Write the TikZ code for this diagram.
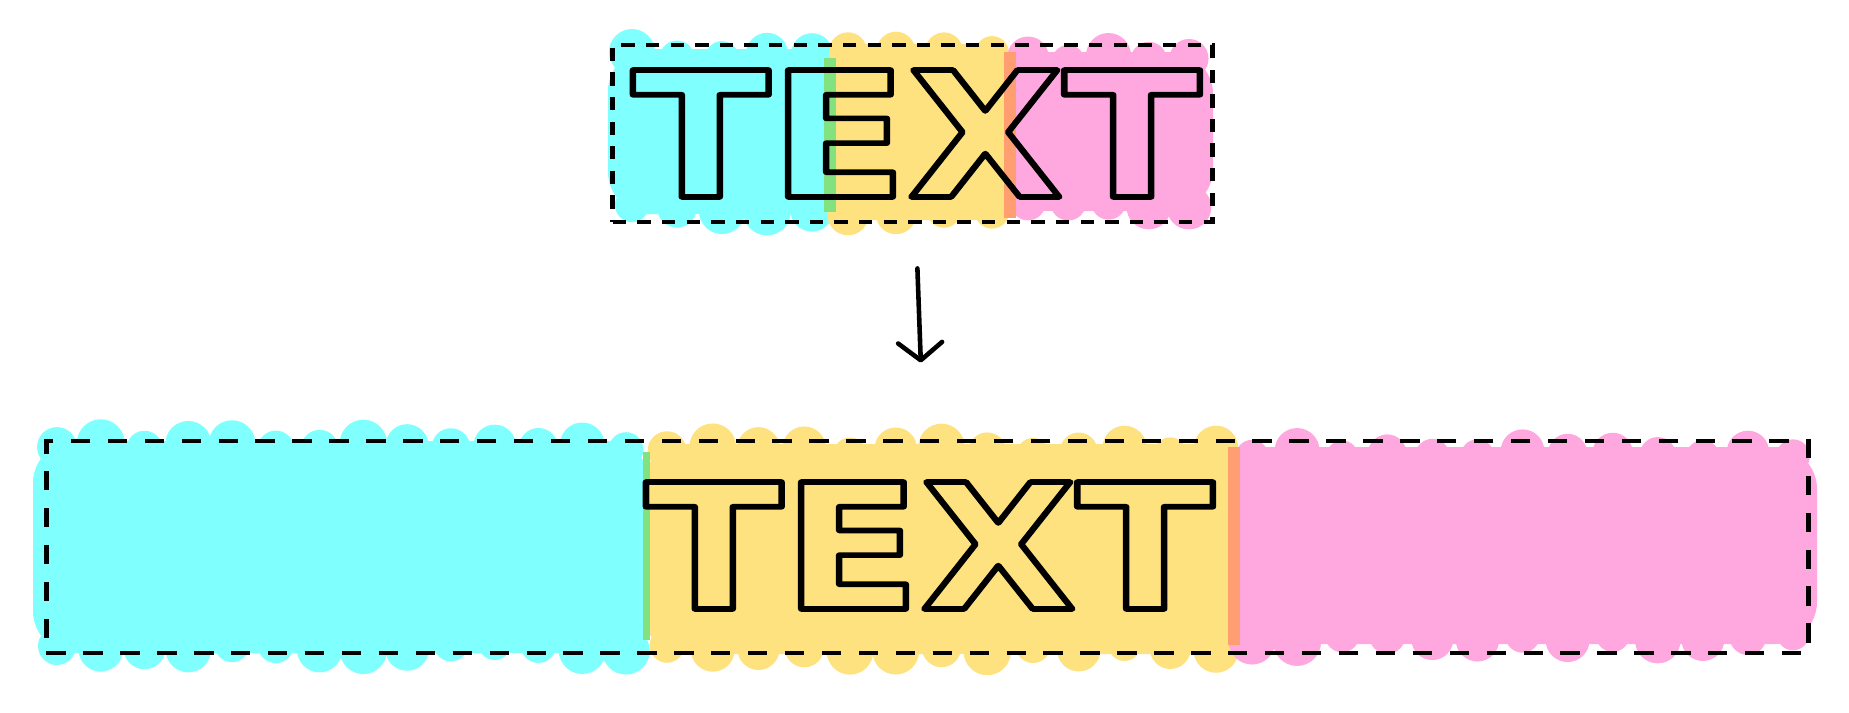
\documentclass[tikz,border=0pt]{standalone}
\usepackage{fontspec}
\usetikzlibrary{arrows.meta,positioning}
\newfontfamily\letterfont{DejaVu Sans Bold}
\definecolor{hlcyan}{RGB}{128,255,255}
\definecolor{hlyellow}{RGB}{255,226,128}
\definecolor{hlpink}{RGB}{255,168,224}
\definecolor{hlgreen}{RGB}{130,226,128}
\definecolor{hlorange}{RGB}{255,158,112}
% outlined letters: stroke only
\newcommand{\hollow}[1]{\scalebox{1.16}[1]{\special{pdf:literal direct 1 Tr 1.6 w 1 j 1 J}#1\special{pdf:literal direct 0 Tr}}}
% highlighter band: rectangle with round bumps on top and bottom
\newcommand{\smear}[5]{%
  \fill[#1,rounded corners=12] (#2,#3-6) rectangle (#4,#5+6);
  \pgfmathtruncatemacro\nbumps{round((#4-#2-48)/44)}
  \foreach \k in {0,...,\nbumps}{
    \pgfmathsetmacro\xb{#2+24+\k*(#4-#2-48)/\nbumps}
    \pgfmathsetmacro\rt{16+8*rnd}
    \pgfmathsetmacro\rb{16+8*rnd}
    \fill[#1] (\xb,#3+20-\rt) circle[radius=\rt] (\xb,#5-20+\rb) circle[radius=\rb];
  }}
\tikzset{
  framebox/.style={draw,line width=1.35pt,inner sep=0pt},
  word/.style={inner sep=0pt,font=\letterfont\fontsize{49.5}{50}\selectfont},
  flow/.style={line width=1.3pt,line cap=round,shorten <=0.44cm,shorten >=0.76cm,
    -{Straight Barb[length=5pt,width=12.5pt,round]}}
}

\begin{document}
\begin{tikzpicture}[x=0.01cm,y=-0.01cm]
\pgfmathsetseed{7}
\useasboundingbox (0,0) rectangle (1849,712);

\smear{hlcyan}{608}{55}{836}{208}
\smear{hlyellow}{824}{50}{1016}{214}
\smear{hlpink}{1004}{58}{1213}{205}
\fill[hlgreen] (824,58) rectangle (836,212);
\fill[hlorange] (1004,52) rectangle (1016,218);

\smear{hlcyan}{33}{447}{650}{647}
\smear{hlyellow}{643}{450}{1240}{648}
\smear{hlpink}{1228}{453}{1817}{638}
\fill[hlgreen] (643,452) rectangle (650,640);
\fill[hlorange] (1228,447) rectangle (1240,645);

\node[framebox,dash pattern=on 3.8pt off 3.2pt,minimum width=5.99cm,minimum height=1.77cm] (top) at (912.5,133.5) {};
\node[framebox,dash pattern=on 5.5pt off 5pt,minimum width=17.61cm,minimum height=2.12cm] (bottom) at (927.5,547) {};

\node[word] (topword) at (916.5,133.5) {\hollow{TEXT}};
\node[word] (bottomword) at (929.5,545.5) {\hollow{TEXT}};

\draw[flow] (top) -- (bottom);
\end{tikzpicture}
\end{document}
